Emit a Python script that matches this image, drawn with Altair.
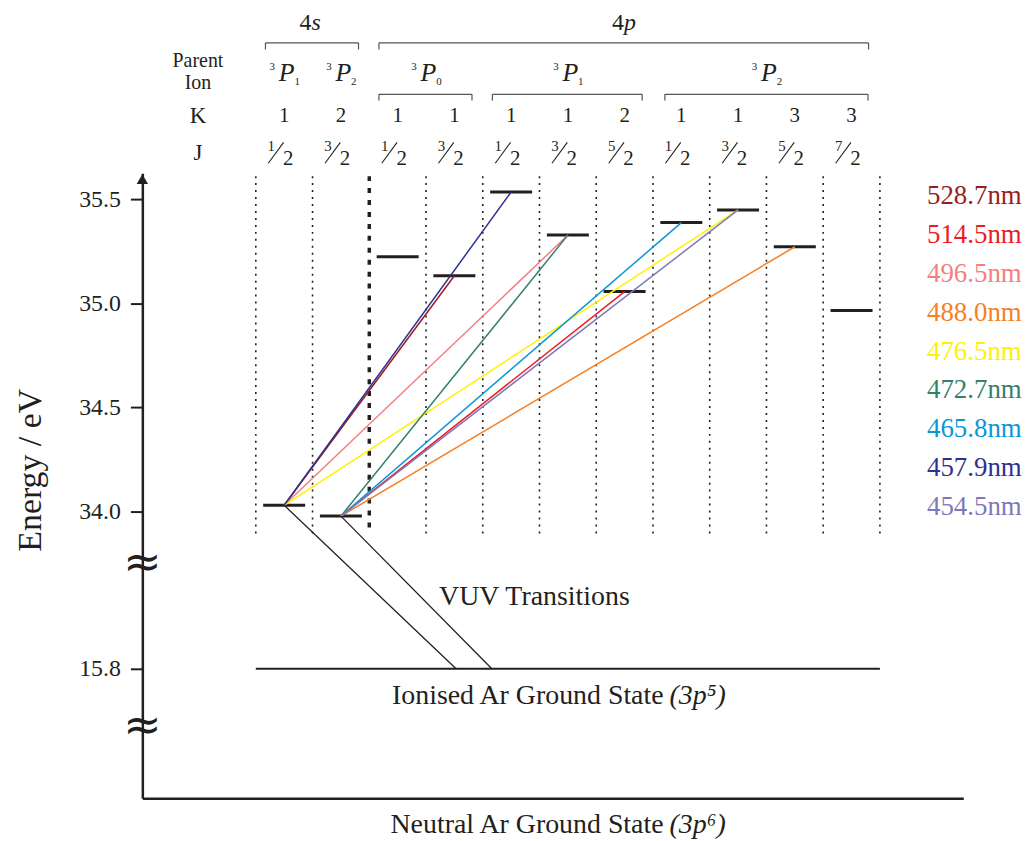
import altair as alt
import pandas as pd

# ---------------- data ----------------
COLUMNS = list(range(1, 12))
K_VALUES = ["1", "2", "1", "1", "1", "1", "2", "1", "1", "3", "3"]
J_NUMERATOR = ["1", "3", "1", "3", "1", "3", "5", "1", "3", "5", "7"]
J_DENOMINATOR = ["2", "2", "2", "2", "2", "2", "2", "2", "2", "2", "2"]
PARENT_SUB = ["1", "2", "0", "1", "2"]
PARENT_CENTER = [1, 2, 3.5, 6, 9.5]
LEVEL_ENERGY = [34.030, 33.978, 35.223, 35.132, 35.534, 35.327,
                35.056, 35.387, 35.448, 35.271, 34.965]

WAVELENGTH = ["528.7nm", "514.5nm", "496.5nm", "488.0nm", "476.5nm",
              "472.7nm", "465.8nm", "457.9nm", "454.5nm"]
LINE_COLOR = ["#9b1c20", "#ed1c24", "#f37f81", "#f58025", "#fff200",
              "#34806a", "#0a96d6", "#2e3192", "#7f77ba"]
LOWER_LEVEL = [1, 2, 1, 2, 1, 2, 2, 1, 2]
UPPER_LEVEL = [4, 7, 6, 10, 9, 6, 8, 5, 9]

VUV_FROM = [1, 2]
VUV_TO_COLUMN = [4.03, 4.66]
ION_GROUND_E = 15.8
TICK_ENERGY = [34.0, 34.5, 35.0, 35.5]

# ---------------- layout (scale units) ----------------
INK = "#231f20"
SERIF = "Liberation Serif"
BREAK_SHIFT = 17.445          # energy removed by the axis break


def disp(e):
    return e if e > 30 else e + BREAK_SHIFT


XS = alt.Scale(domain=[-1.5, 12.97], nice=False, zero=False)
YS = alt.Scale(domain=[32.624, 35.624], nice=False, zero=False)

XAX = alt.Axis(ticks=False, labels=False, grid=False, title=None,
               domainWidth=2.5, domainColor=INK)
YAX = alt.Axis(values=[disp(ION_GROUND_E)] + TICK_ENERGY,
               labelExpr="datum.value < 33.5 ? format(datum.value - 17.445, '.1f') : format(datum.value, '.1f')",
               labelFont=SERIF, labelFontSize=24, labelColor=INK,
               labelPadding=10, tickSize=12, tickWidth=2, tickColor=INK,
               domainWidth=2.5, domainColor=INK, grid=False,
               title="Energy / eV", titleFont=SERIF, titleFontSize=34,
               titleFontWeight="normal", titleColor=INK, titleAngle=270,
               titleX=-112, titleY=298, titleAlign="center",
               titleBaseline="middle")


def X(f="x"):
    return alt.X(f + ":Q", scale=XS, axis=XAX)


def Y(f="y"):
    return alt.Y(f + ":Q", scale=YS, axis=YAX)


COLOR = alt.Color("wl:N", scale=alt.Scale(domain=WAVELENGTH, range=LINE_COLOR),
                  legend=None)

Y_TOP_COL = 35.61
Y_BOT_COL = 33.890

# dotted column separators
bounds = [c + 0.5 for c in range(0, 12) if c != 2]
sep = alt.Chart(pd.DataFrame({"x": bounds, "y": Y_TOP_COL, "y2": Y_BOT_COL})).mark_rule(
    color=INK, strokeWidth=1.6, strokeDash=[2, 5]
).encode(x=X(), y=Y(), y2="y2:Q")
sep_thick = alt.Chart(pd.DataFrame({"x": [2.5], "y": [Y_TOP_COL], "y2": [33.909]})).mark_rule(
    color=INK, strokeWidth=3.5, strokeDash=[5, 7]
).encode(x=X(), y=Y(), y2="y2:Q")

# energy levels
lv = pd.DataFrame({"c": COLUMNS, "y": LEVEL_ENERGY})
lv["x"] = lv["c"] - 0.37
lv["x2"] = lv["c"] + 0.37
levels = alt.Chart(lv).mark_rule(color=INK, strokeWidth=3).encode(
    x=X(), x2="x2:Q", y=Y())

# visible transitions
tr = pd.DataFrame({
    "wl": WAVELENGTH,
    "x": LOWER_LEVEL,
    "x2": UPPER_LEVEL,
    "y": [LEVEL_ENERGY[i - 1] for i in LOWER_LEVEL],
    "y2": [LEVEL_ENERGY[i - 1] for i in UPPER_LEVEL],
})
trans = alt.Chart(tr).mark_rule(strokeWidth=1.5).encode(
    x=X(), x2="x2:Q", y=Y(), y2="y2:Q", color=COLOR)

# VUV transitions
vv = pd.DataFrame({
    "x": VUV_FROM,
    "y": [LEVEL_ENERGY[i - 1] for i in VUV_FROM],
    "x2": VUV_TO_COLUMN,
    "y2": [disp(ION_GROUND_E)] * 2,
})
vuv = alt.Chart(vv).mark_rule(color=INK, strokeWidth=1.3).encode(
    x=X(), x2="x2:Q", y=Y(), y2="y2:Q")

ground = alt.Chart(pd.DataFrame({"x": [0.5], "x2": [11.5], "y": [disp(ION_GROUND_E)]})).mark_rule(
    color=INK, strokeWidth=2).encode(x=X(), x2="x2:Q", y=Y())

# axis arrow and break marks
arrow = alt.Chart(pd.DataFrame({"x": [-1.5], "y": [35.596]})).mark_point(
    shape="triangle-up", filled=True, size=130, color=INK, opacity=1
).encode(x=X(), y=Y())
breaks = alt.Chart(pd.DataFrame({"x": [-1.5, -1.5], "y": [33.752, 32.968], "t": ["≈", "≈"]})).mark_text(
    font="DejaVu Sans", fontSize=46, color=INK, baseline="middle", align="center", dy=0
).encode(x=X(), y=Y(), text="t:N")


def text_layer(df, size, align="center", italic=False, dx=0, dy=0, font=SERIF, color=INK):
    kw = dict(font=font, fontSize=size, align=align, baseline="middle",
              color=color, dx=dx, dy=dy)
    if italic:
        kw["fontStyle"] = "italic"
    return alt.Chart(df).mark_text(**kw).encode(x=X(), y=Y(), text="t:N")


# header rows
Y_SHELL = 36.345
Y_BRACKET = 36.250
Y_BRACKET_TICK = 36.218
Y_PARENT = 36.106
Y_SUBBRACKET = 36.003
Y_SUBBRACKET_TICK = 35.973
Y_K = 35.900
Y_J = 35.722

shell_num = text_layer(pd.DataFrame({"x": [1.48, 6.99], "y": Y_SHELL, "t": ["4", "4"]}), 24, align="right")
shell_let = text_layer(pd.DataFrame({"x": [1.48, 6.99], "y": Y_SHELL, "t": ["s", "p"]}), 24, align="left", italic=True)

br = pd.DataFrame({
    "x": [0.67, 2.67, 2.67, 4.67, 7.71],
    "x2": [2.31, 11.30, 4.31, 7.31, 11.29],
    "y": [Y_BRACKET, Y_BRACKET, Y_SUBBRACKET, Y_SUBBRACKET, Y_SUBBRACKET],
    "y2": [Y_BRACKET_TICK, Y_BRACKET_TICK, Y_SUBBRACKET_TICK, Y_SUBBRACKET_TICK, Y_SUBBRACKET_TICK],
})
br_h = alt.Chart(br).mark_rule(color="#555555", strokeWidth=1.2).encode(x=X(), x2="x2:Q", y=Y())
br_tl = alt.Chart(br).mark_rule(color="#555555", strokeWidth=1.2).encode(x=X(), y=Y(), y2="y2:Q")
br_tr = alt.Chart(br).mark_rule(color="#555555", strokeWidth=1.2).encode(x=X("x2"), y=Y(), y2="y2:Q")

row_labels = pd.DataFrame({"x": [-0.52, -0.52, -0.52, -0.52],
                           "y": [36.165, 36.055, Y_K, Y_J],
                           "t": ["Parent", "Ion", "K", "J"]})
row_small = text_layer(row_labels.iloc[:2], 20)
row_big = text_layer(row_labels.iloc[2:], 23)

pp = pd.DataFrame({"x": PARENT_CENTER, "y": Y_PARENT})
p_main = text_layer(pp.assign(t="P"), 26, italic=True, dx=2.5)
p_sup = text_layer(pp.assign(t="3"), 11, dx=-12, dy=-6)
p_sub = text_layer(pp.assign(t=PARENT_SUB), 11, dx=13, dy=9.5)

k_row = text_layer(pd.DataFrame({"x": COLUMNS, "y": Y_K, "t": K_VALUES}), 21)

jj = pd.DataFrame({"x": COLUMNS, "y": Y_J})
j_num = text_layer(jj.assign(t=J_NUMERATOR), 15, dx=-13, dy=-7)
j_den = text_layer(jj.assign(t=J_DENOMINATOR), 21, dx=4, dy=6)
sl = pd.DataFrame({"c": COLUMNS})
sl["x"] = sl["c"] - 0.28
sl["x2"] = sl["c"] - 0.01
sl["y"] = 35.672
sl["y2"] = 35.772
j_slash = alt.Chart(sl).mark_rule(color=INK, strokeWidth=1.1).encode(
    x=X(), x2="x2:Q", y=Y(), y2="y2:Q")

# wavelength key
lg = pd.DataFrame({"wl": WAVELENGTH, "t": WAVELENGTH})
lg["x"] = 12.33
lg["y"] = [35.515 - i * 0.1868 for i in range(len(WAVELENGTH))]
legend = alt.Chart(lg).mark_text(font=SERIF, fontSize=27, align="left", baseline="middle").encode(
    x=X(), y=Y(), text="t:N", color=COLOR)

# annotations
vuv_lbl = text_layer(pd.DataFrame({"x": [5.41], "y": [33.589], "t": ["VUV Transitions"]}), 28)
state_df = pd.DataFrame({"x": [7.74, 7.74], "y": [33.116, 32.495],
                         "t": ["Ionised Ar Ground State", "Neutral Ar Ground State"]})
state_txt = text_layer(state_df, 28, align="right", dx=-3)
state_cfg = text_layer(state_df.assign(t=["(3p⁵)", "(3p⁶)"]), 28, align="left", italic=True, dx=3)

chart = alt.layer(
    sep, sep_thick, levels, trans, vuv, ground, arrow, breaks,
    shell_num, shell_let, br_h, br_tl, br_tr, row_small, row_big,
    p_main, p_sup, p_sub, k_row, j_num, j_den, j_slash,
    legend, vuv_lbl, state_txt, state_cfg,
).properties(
    width=825, height=628,
    autosize=alt.AutoSizeParams(type="none"),
    padding={"left": 135, "top": 164, "right": 64, "bottom": 41},
).configure_view(stroke=None)

chart.save("out.html", embed_options={"renderer": "svg", "actions": False})
